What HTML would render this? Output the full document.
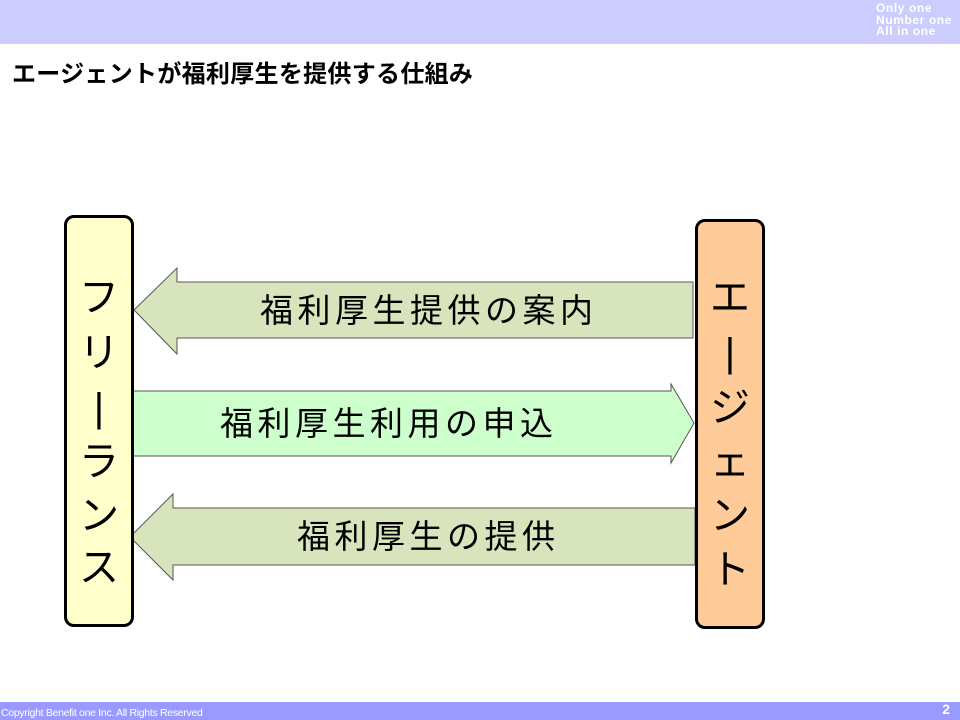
<!DOCTYPE html>
<html><head><meta charset="utf-8"><style>
body{margin:0;width:960px;height:720px;position:relative;background:#fff;overflow:hidden;font-family:"Liberation Sans","Noto Sans CJK JP",sans-serif}
.hdr{position:absolute;left:0;top:0;width:960px;height:44px;background:#ccccff}
.tag{position:absolute;left:876px;top:3px;color:#fff;font-weight:bold;font-size:12px;line-height:11.5px;letter-spacing:0.6px}
.title{position:absolute;left:12px;top:54px;font-size:24px;font-weight:bold;letter-spacing:0.3px;white-space:nowrap}
.ftr{position:absolute;left:0;top:702px;width:960px;height:18px;background:#9999ff}
.copy{position:absolute;left:1px;top:707px;font-size:10.5px;color:#fff;letter-spacing:-0.3px}
.num{position:absolute;right:10px;top:701px;font-size:14px;font-weight:bold;color:#fff}
.box{position:absolute;border:3px solid #000;border-radius:10px;box-sizing:border-box}
.ch{position:absolute;width:100%;text-align:center;font-size:40px;line-height:40px}
.lbl{position:absolute;font-size:33px;letter-spacing:4.5px;white-space:nowrap;line-height:40px}
</style></head><body>
<div class="hdr"></div>
<div class="tag">Only one<br>Number one<br>All in one</div>
<div class="title">エージェントが福利厚生を提供する仕組み</div>
<svg style="position:absolute;left:0;top:0" width="960" height="720">
<polygon points="134,310 177,268 177,282 693,282 693,338 177,338 177,354" fill="#d8e4bc" stroke="#555" stroke-width="1"/>
<polygon points="133,391 671,391 671,384 694,423 671,463 671,456 133,456" fill="#ccffcc" stroke="#555" stroke-width="1"/>
<polygon points="130,537 173,494 173,508 695,508 695,565 173,565 173,580" fill="#d8e4bc" stroke="#555" stroke-width="1"/>
</svg>
<div class="box" style="left:64px;top:215px;width:70px;height:412px;background:#ffffcc">
<div class="ch" style="top:60px">フ</div><div class="ch" style="top:115px">リ</div><div class="ch" style="top:170px">|</div><div class="ch" style="top:224px">ラ</div><div class="ch" style="top:278px">ン</div><div class="ch" style="top:330px">ス</div>
</div>
<div class="box" style="left:695px;top:219px;width:70px;height:410px;background:#ffcc99">
<div class="ch" style="top:56px">エ</div><div class="ch" style="top:111px">|</div><div class="ch" style="top:166px">ジ</div><div class="ch" style="top:220px">ェ</div><div class="ch" style="top:274px">ン</div><div class="ch" style="top:328px">ト</div>
</div>
<div class="lbl" style="left:260px;top:291px">福利厚生提供の案内</div>
<div class="lbl" style="left:220px;top:404px">福利厚生利用の申込</div>
<div class="lbl" style="left:297px;top:517px">福利厚生の提供</div>
<div class="ftr"></div>
<div class="copy">Copyright Benefit one Inc. All Rights Reserved</div>
<div class="num">2</div>
</body></html>
